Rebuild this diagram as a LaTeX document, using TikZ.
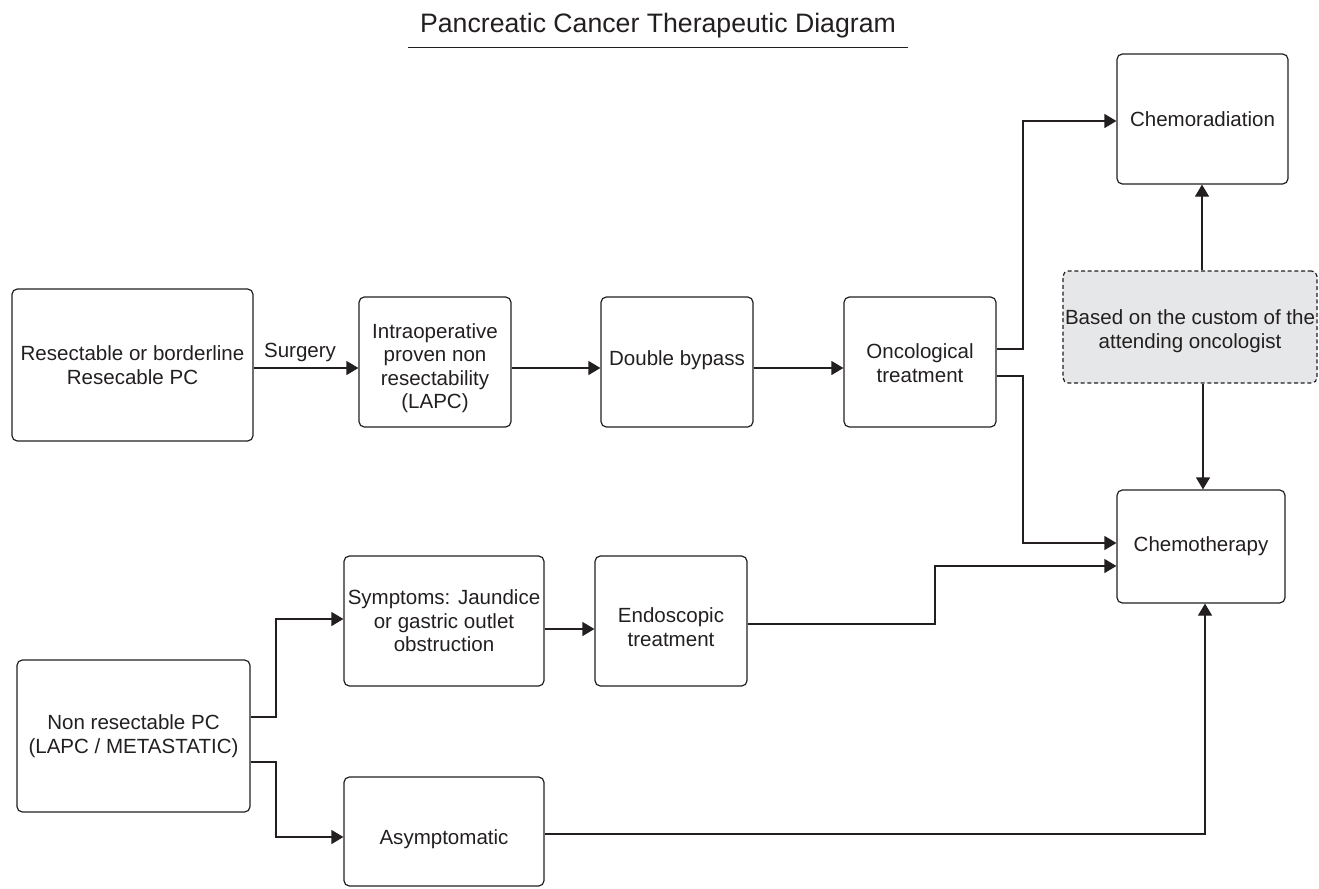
\documentclass[tikz,border=0pt]{standalone}
\usepackage{fontspec}
\setmainfont{Liberation Sans}
\usetikzlibrary{arrows.meta,fit}
\definecolor{ink}{HTML}{231F20}
\definecolor{lgray}{HTML}{E6E7E8}
\begin{document}
\begin{tikzpicture}[x=0.75pt,y=-0.75pt,
  box/.style={draw=ink, line width=0.9pt, rounded corners=4pt, inner sep=0pt},
  dbox/.style={box, fill=lgray, dash pattern=on 3pt off 2pt},
  txt/.style={text=ink, align=center, inner sep=0pt, font=\fontsize{15.4}{17.6}\selectfont},
  arr/.style={draw=ink, line width=0.9pt, -{Triangle[length=9pt,width=10.5pt]}},
]
\useasboundingbox (0,0) rectangle (1319,888);

% title
\node[text=ink, font=\fontsize{20}{24}\selectfont, inner sep=0pt, anchor=base] (title) at (658,33) {Pancreatic Cancer Therapeutic Diagram};
\draw[ink, line width=0.9pt] (408,47.5) -- (908,47.5);

% boxes
\node[box, fit={(12,289) (253,441)}] (A) {};
\node[box, fit={(359,297) (511,427)}] (B) {};
\node[box, fit={(601,297) (753,427)}] (C) {};
\node[box, fit={(844,297) (996,427)}] (D) {};
\node[box, fit={(1117,54) (1288,184)}] (E) {};
\node[dbox, fit={(1063,271) (1317,383)}] (F) {};
\node[box, fit={(1117,490) (1285,603)}] (G) {};
\node[box, fit={(17,660) (250,812)}] (H) {};
\node[box, fit={(344,556) (544,686)}] (I) {};
\node[box, fit={(595,556) (747,686)}] (J) {};
\node[box, fit={(344,777) (544,886)}] (K) {};

% texts
\node[txt] (At) at (A.center) {Resectable or borderline\\Resecable PC};
\node[txt, yshift=-4.5pt] (Bt) at (B.center) {Intraoperative\\proven non\\resectability\\(LAPC)};
\node[txt, yshift=1pt] (Ct) at (C.center) {Double bypass};
\node[txt, yshift=-1pt] (Dt) at (D.center) {Oncological\\treatment};
\node[txt, yshift=-3pt] (Ft) at (F.center) {Based on the custom of the\\attending oncologist};
\node[txt] (Et) at (E.center) {Chemoradiation};
\node[txt] (Gt) at (G.center) {Chemotherapy};
\node[txt] (Ht) at (H.center) {Non resectable PC\\(LAPC / METASTATIC)};
\node[txt] (It) at (I.center) {Symptoms: Jaundice\\or gastric outlet\\obstruction};
\node[txt, yshift=-4.5pt] (Jt) at (J.center) {Endoscopic\\treatment};
\node[txt, yshift=-6pt] (Kt) at (K.center) {Asymptomatic};

% label
\node[txt, anchor=base] (surg) at (300,357) {Surgery};

% connectors
\draw[arr] (A.east |- 0,368) -- (B.west |- 0,368);
\draw[arr] (B.east |- 0,368) -- (C.west |- 0,368);
\draw[arr] (C.east |- 0,368) -- (D.west |- 0,368);
\draw[arr] (D.east |- 0,349) -| (1023,121) -- (E.west |- 0,121);
\draw[arr] (D.east |- 0,376) -| (1023,543) -- (G.west |- 0,543);
\draw[arr] (F.north -| 1202,0) -- (E.south -| 1202,0);
\draw[arr] (F.south -| 1203,0) -- (G.north -| 1203,0);
\draw[arr] (J.east |- 0,624) -| (935,566) -- (G.west |- 0,566);
\draw[arr] (K.east |- 0,834) -| (G.south -| 1205,0);
\draw[arr] (H.east |- 0,717) -| (276,619) -- (I.west |- 0,619);
\draw[arr] (H.east |- 0,762) -| (276,837) -- (K.west |- 0,837);
\draw[arr] (I.east |- 0,629) -- (J.west |- 0,629);
\end{tikzpicture}
\end{document}
